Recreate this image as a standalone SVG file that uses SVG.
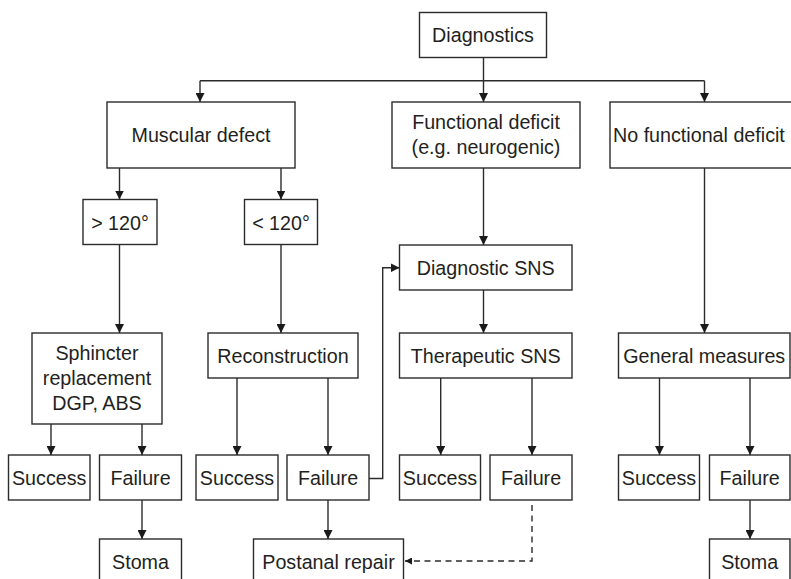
<svg xmlns="http://www.w3.org/2000/svg" width="791" height="579" viewBox="0 0 791 579">
<style>
.box{fill:#fff;stroke:#2b2b2b;stroke-width:1.4}
.t{font-family:"Liberation Sans",Arial,sans-serif;font-size:19.7px;fill:#231f20;text-anchor:middle}
.c{fill:none;stroke:#2b2b2b;stroke-width:1.4}
.d{fill:none;stroke:#2b2b2b;stroke-width:1.4;stroke-dasharray:6,4.5}
</style>
<defs>
<marker id="ah" viewBox="0 0 10 10" refX="10" refY="5" markerWidth="9" markerHeight="9" markerUnits="userSpaceOnUse" orient="auto">
<path d="M0,0 L10,5 L0,10 z" fill="#1a1a1a"/>
</marker>
<marker id="ahs" viewBox="0 0 10 10" refX="10" refY="5" markerWidth="7" markerHeight="7" markerUnits="userSpaceOnUse" orient="auto">
<path d="M0,0 L10,5 L0,10 z" fill="#1a1a1a"/>
</marker>
</defs>
<rect width="791" height="579" fill="#fff"/>
<g id="connectors">
<path class="c" d="M483.5,57.5 V80.7 M200,80.7 H704.5"/>
<path class="c" d="M200,80.7 V102" marker-end="url(#ah)"/>
<path class="c" d="M483.5,80.7 V102" marker-end="url(#ah)"/>
<path class="c" d="M704.5,80.7 V102" marker-end="url(#ah)"/>
<path class="c" d="M119.5,168 V199.5" marker-end="url(#ah)"/>
<path class="c" d="M281,168 V199.5" marker-end="url(#ah)"/>
<path class="c" d="M119.5,244.5 V333" marker-end="url(#ah)"/>
<path class="c" d="M281,244.5 V333" marker-end="url(#ah)"/>
<path class="c" d="M483.5,168 V245" marker-end="url(#ah)"/>
<path class="c" d="M704.5,168 V333" marker-end="url(#ah)"/>
<path class="c" d="M483.5,290 V333" marker-end="url(#ah)"/>
<path class="c" d="M51,424 V455" marker-end="url(#ah)"/>
<path class="c" d="M142,424 V455" marker-end="url(#ah)"/>
<path class="c" d="M237,378 V455" marker-end="url(#ah)"/>
<path class="c" d="M328,378 V455" marker-end="url(#ah)"/>
<path class="c" d="M440.7,378 V455" marker-end="url(#ah)"/>
<path class="c" d="M532,378 V455" marker-end="url(#ah)"/>
<path class="c" d="M659.5,378 V455" marker-end="url(#ah)"/>
<path class="c" d="M750,378 V455" marker-end="url(#ah)"/>
<path class="c" d="M142,500 V539" marker-end="url(#ah)"/>
<path class="c" d="M328,500 V539" marker-end="url(#ah)"/>
<path class="c" d="M750,500 V539" marker-end="url(#ah)"/>
<path class="c" d="M369,478.5 H382.7 V267.8 H399.5" marker-end="url(#ah)"/>
<path class="d" d="M532,505 V561 H405" marker-end="url(#ahs)"/>
</g>
<g id="diagnostics"><rect class="box" x="419.5" y="12.5" width="127" height="45"/><text class="t" x="483" y="42">Diagnostics</text></g>
<g id="muscular"><rect class="box" x="107" y="102" width="188" height="66"/><text class="t" x="201" y="142">Muscular defect</text></g>
<g id="functional"><rect class="box" x="392" y="102" width="188" height="66"/><text class="t" x="486" y="128.5">Functional deficit</text><text class="t" x="486" y="153.5">(e.g. neurogenic)</text></g>
<g id="nofunctional"><rect class="box" x="610" y="102" width="200" height="66"/><text class="t" x="613" y="141.5" style="text-anchor:start">No functional deficit</text></g>
<g id="gt120"><rect class="box" x="83" y="199.5" width="74" height="45"/><text class="t" x="120" y="229.5">&gt; 120°</text></g>
<g id="lt120"><rect class="box" x="244.5" y="199.5" width="73" height="45"/><text class="t" x="281" y="229.5">&lt; 120°</text></g>
<g id="sphincter"><rect class="box" x="32" y="333" width="130" height="91"/><text class="t" x="97" y="359.5">Sphincter</text><text class="t" x="97" y="384.5">replacement</text><text class="t" x="97" y="409.5">DGP, ABS</text></g>
<g id="reconstruction"><rect class="box" x="208" y="333" width="150" height="45"/><text class="t" x="283" y="362.5">Reconstruction</text></g>
<g id="diagsns"><rect class="box" x="399.5" y="245" width="172.5" height="45"/><text class="t" x="485.7" y="274.5">Diagnostic SNS</text></g>
<g id="thersns"><rect class="box" x="399.5" y="333" width="172.5" height="45"/><text class="t" x="485.7" y="362.5">Therapeutic SNS</text></g>
<g id="general"><rect class="box" x="618.5" y="333" width="171.5" height="45"/><text class="t" x="704.2" y="362.5">General measures</text></g>
<g id="success1"><rect class="box" x="8.5" y="455" width="81.5" height="45"/><text class="t" x="49.2" y="484.5">Success</text></g>
<g id="failure1"><rect class="box" x="99.5" y="455" width="82" height="45"/><text class="t" x="140.5" y="484.5">Failure</text></g>
<g id="stoma1"><rect class="box" x="99.5" y="539" width="82" height="45"/><text class="t" x="140.5" y="568.5">Stoma</text></g>
<g id="success2"><rect class="box" x="196" y="455" width="82" height="45"/><text class="t" x="237" y="484.5">Success</text></g>
<g id="failure2"><rect class="box" x="287" y="455" width="82" height="45"/><text class="t" x="328" y="484.5">Failure</text></g>
<g id="postanal"><rect class="box" x="253.5" y="539" width="150" height="45"/><text class="t" x="328.5" y="568.5">Postanal repair</text></g>
<g id="success3"><rect class="box" x="399.5" y="455" width="81" height="45"/><text class="t" x="440" y="484.5">Success</text></g>
<g id="failure3"><rect class="box" x="490" y="455" width="82" height="45"/><text class="t" x="531" y="484.5">Failure</text></g>
<g id="success4"><rect class="box" x="618.5" y="455" width="81" height="45"/><text class="t" x="659" y="484.5">Success</text></g>
<g id="failure4"><rect class="box" x="709.5" y="455" width="80.5" height="45"/><text class="t" x="749.7" y="484.5">Failure</text></g>
<g id="stoma4"><rect class="box" x="709.5" y="539" width="80.5" height="45"/><text class="t" x="749.7" y="568.5">Stoma</text></g>
</svg>
